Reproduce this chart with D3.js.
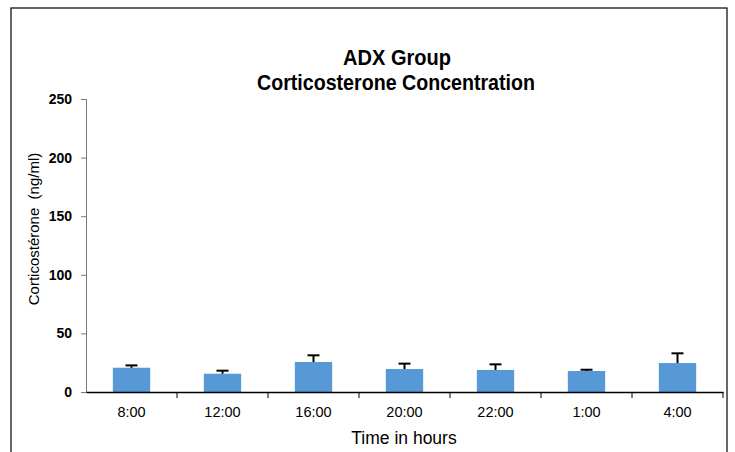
<!DOCTYPE html>
<html>
<head>
<meta charset="utf-8">
<script src="https://cdn.jsdelivr.net/npm/d3@7"></script>
<style>
  body { margin: 0; background: #fff; }
  text { font-family: "Liberation Sans", Arial, sans-serif; }
</style>
</head>
<body>
<script>
// chart data
const times = ["8:00", "12:00", "16:00", "20:00", "22:00", "1:00", "4:00"];
const means = [20.7, 15.6, 25.6, 19.6, 18.8, 17.9, 24.7];
const errTops = [22.7, 18.2, 31.3, 24.2, 23.6, 19.0, 33.0];
const yTicks = [0, 50, 100, 150, 200, 250];

const width = 735, height = 452;
const margin = { top: 99, right: 12, bottom: 60, left: 86 };

const svg = d3.select("body").append("svg")
  .attr("width", width)
  .attr("height", height);

// outer frame
svg.append("rect")
  .attr("x", 11).attr("y", 8)
  .attr("width", 716).attr("height", 460)
  .attr("fill", "none")
  .attr("stroke", "#000")
  .attr("stroke-width", 1.2);

const x = d3.scaleBand()
  .domain(times)
  .range([margin.left, 723])
  .paddingInner(0.59)
  .paddingOuter(0.295);

const y = d3.scaleLinear()
  .domain([0, 250])
  .range([392, 99]);

// y axis
const yAxis = svg.append("g")
  .attr("transform", `translate(${margin.left},0)`)
  .call(d3.axisLeft(y).tickValues(yTicks).tickSize(5).tickPadding(9));
yAxis.select(".domain").attr("stroke", "#777");
yAxis.selectAll(".tick line").attr("stroke", "#777");
yAxis.selectAll("text")
  .attr("font-size", 14)
  .attr("font-weight", "bold")
  .attr("fill", "#000")
  .style("font-family", "'Liberation Sans', Arial, sans-serif");

// bars
svg.selectAll(".bar")
  .data(times)
  .enter()
  .append("rect")
  .attr("class", "bar")
  .attr("x", d => x(d))
  .attr("y", (d, i) => y(means[i]))
  .attr("width", x.bandwidth())
  .attr("height", (d, i) => y(0) - y(means[i]))
  .attr("fill", "#5699d6");

// error bars (upper only)
const errG = svg.selectAll(".err")
  .data(times)
  .enter()
  .append("g")
  .attr("class", "err");
errG.append("line")
  .attr("x1", d => x(d) + x.bandwidth() / 2)
  .attr("x2", d => x(d) + x.bandwidth() / 2)
  .attr("y1", (d, i) => y(means[i]))
  .attr("y2", (d, i) => y(errTops[i]))
  .attr("stroke", "#000")
  .attr("stroke-width", 2);
errG.append("line")
  .attr("x1", d => x(d) + x.bandwidth() / 2 - 6)
  .attr("x2", d => x(d) + x.bandwidth() / 2 + 6)
  .attr("y1", (d, i) => y(errTops[i]))
  .attr("y2", (d, i) => y(errTops[i]))
  .attr("stroke", "#000")
  .attr("stroke-width", 2);

// x axis with ticks between categories
const xAxis = svg.append("g")
  .attr("transform", `translate(0,${y(0)})`)
  .call(d3.axisBottom(x).tickSize(0).tickPadding(15));
xAxis.select(".domain").attr("stroke", "#000").attr("stroke-width", 1.5);
xAxis.selectAll("text")
  .attr("font-size", 14.5)
  .attr("fill", "#000")
  .style("font-family", "'Liberation Sans', Arial, sans-serif");

const step = x.step();
xAxis.selectAll(".sep")
  .data(times)
  .enter()
  .append("line")
  .attr("x1", d => x(d) + x.bandwidth() / 2 + step / 2)
  .attr("x2", d => x(d) + x.bandwidth() / 2 + step / 2)
  .attr("y1", 0)
  .attr("y2", 6)
  .attr("stroke", "#000");

// titles
svg.append("text")
  .attr("x", 397).attr("y", 65)
  .attr("text-anchor", "middle")
  .attr("font-size", 22)
  .attr("font-weight", "bold")
  .attr("textLength", 108)
  .attr("lengthAdjust", "spacingAndGlyphs")
  .text("ADX Group");
svg.append("text")
  .attr("x", 396).attr("y", 90)
  .attr("text-anchor", "middle")
  .attr("font-size", 22)
  .attr("font-weight", "bold")
  .attr("textLength", 278)
  .attr("lengthAdjust", "spacingAndGlyphs")
  .text("Corticosterone Concentration");

// axis labels
svg.append("text")
  .attr("x", 404).attr("y", 444)
  .attr("text-anchor", "middle")
  .attr("font-size", 17.5)
  .text("Time in hours");
svg.append("text")
  .attr("transform", "translate(39,229) rotate(-90)")
  .attr("text-anchor", "middle")
  .attr("font-size", 15)
  .style("white-space", "pre")
  .text("Corticostérone  (ng/ml)");
</script>
</body>
</html>
